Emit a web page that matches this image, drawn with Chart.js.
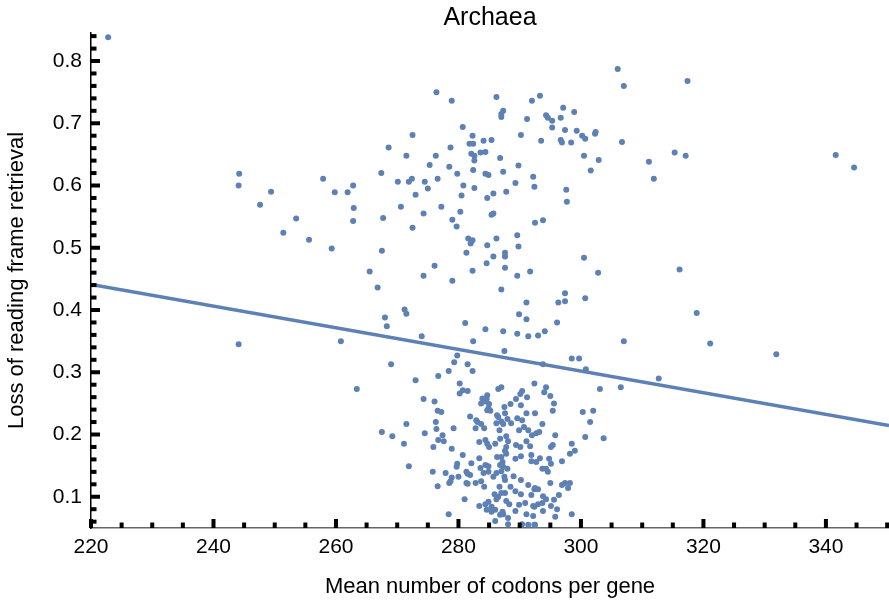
<!DOCTYPE html>
<html>
<head>
<meta charset="utf-8">
<script src="https://cdn.jsdelivr.net/npm/chart.js@4/dist/chart.umd.min.js"></script>
<style>
  html, body { margin: 0; padding: 0; background: #fff; }
  #wrap { width: 889px; height: 605px; position: relative; }
</style>
</head>
<body>
<div id="wrap"><canvas id="archaeaChart"></canvas></div>
<script>
// ----------------------------------------
// data
// ----------------------------------------

// mean number of codons per gene
const codonsPerGene = [
  222.8, 244.2, 244.1, 247.6, 249.4, 251.4, 253.5, 255.6, 257.9, 259.3,
  259.8, 261.9, 262.8, 262.9, 262.8, 244.1, 260.8, 263.4, 265.5, 266.8,
  267.4, 267.7, 267.5, 267.5, 269.2, 271.5, 271.1, 271.9, 274.5, 274.3,
  273.0, 269.0, 268.3, 268.0, 271.2, 271.5, 274.0,
  276.4, 278.9, 280.7, 272.5, 282.3, 284.1, 281.8, 282.4, 268.6, 278.7,
  282.1, 282.6, 283.6, 284.4, 271.5, 276.3, 282.6, 275.3, 278.5, 282.4,
  279.8, 284.4, 270.1, 271.9, 272.4, 274.5, 276.6, 275.0, 280.8, 282.6,
  273.0, 280.5, 284.7, 270.6, 277.2, 280.3, 274.3, 279.0, 279.7, 272.5,
  281.6, 282.3, 282.0, 284.7, 281.3, 284.6, 276.1, 282.3, 274.3, 279.0,
  281.1, 284.4,
  306.0, 307.0, 286.2, 293.3, 292.0, 297.1, 298.9, 287.3, 287.0, 287.0,
  294.3, 294.6, 295.3, 296.7, 291.2, 295.3, 297.4, 299.3, 300.2, 300.7,
  302.3, 302.4, 290.2, 285.4, 293.5, 296.7, 296.9, 298.4, 306.7, 315.3,
  311.1, 311.9, 286.8, 300.5, 302.9, 289.8, 301.6, 284.9, 287.3, 292.2,
  289.3, 292.4, 297.6, 297.7, 287.8, 285.7, 285.4, 285.7, 292.5, 293.8,
  286.2, 289.6, 287.6, 287.6, 285.7, 289.8, 287.6, 289.6, 291.7, 300.5,
  302.8, 287.0, 297.4, 297.4, 296.3, 300.7, 291.1, 289.9, 291.1, 296.1,
  287.3, 289.6, 291.4, 293.0, 294.1,
  317.4, 317.1, 341.6, 344.6, 316.1, 318.9, 307.0, 321.1, 331.9, 312.7,
  306.5, 303.1, 303.7,
  298.5, 299.7, 300.8, 293.8, 287.5, 292.4, 294.3, 294.0, 295.0, 295.6,
  295.4, 300.3, 302.0, 301.5, 300.7, 298.5, 299.0, 298.2, 296.9, 295.1,
  294.6, 293.7, 295.8, 295.4, 295.1, 293.3, 292.7, 291.9, 291.9, 295.0,
  296.9, 297.4, 298.2, 297.9, 296.4, 296.1, 298.5, 295.6, 293.8, 293.0,
  292.4, 291.4, 292.4, 292.4, 293.7,
  282.4, 279.8, 279.3, 281.5, 282.3, 278.4, 276.7, 280.2, 280.2, 280.7,
  281.5, 286.5, 287.0, 284.7, 276.1, 283.9, 284.4, 276.6, 277.2, 284.9,
  285.2, 287.5, 281.9, 286.5, 287.0, 276.3, 282.9, 276.4, 279.2, 282.8,
  284.2, 277.4, 276.7, 277.6, 275.9, 278.9, 283.4, 284.4, 284.7, 285.0,
  286.0, 280.7, 283.4, 279.8, 279.7, 282.1, 277.9, 275.8, 278.7, 278.5,
  280.0, 281.5, 281.5, 282.8, 283.7, 276.6, 284.2, 284.9, 285.7, 286.2,
  287.0, 287.5, 285.9, 286.5, 286.7, 284.9, 285.4, 284.4, 283.4, 286.0,
  286.8, 287.2, 281.0, 278.4, 287.8, 287.6, 287.2, 287.8, 287.3, 287.0,
  287.8, 287.8, 286.7, 287.3, 286.3, 287.6,
  290.4, 290.1, 291.2, 289.4, 288.5, 290.2, 291.1, 292.5, 288.0, 288.6,
  289.6, 290.4, 290.7, 293.7, 286.2, 289.9, 291.4, 292.0, 292.7, 293.2,
  291.1, 288.1, 286.8, 289.4, 290.1, 291.7, 287.6, 290.2, 294.8, 286.3,
  289.3, 294.3, 286.8, 288.0, 287.6, 289.0, 290.2, 292.5, 288.5, 289.3,
  287.0, 290.2, 291.9, 294.3, 286.2, 288.3, 289.9, 290.9, 292.2, 293.0,
  295.1, 287.3, 289.3, 291.1, 292.2, 293.8, 295.8, 288.1, 290.4, 291.4,
  292.5, 288.1,
  284.6, 283.7, 285.0, 284.7, 283.1, 283.7, 283.6, 284.4, 284.9, 284.1,
  281.3, 281.9, 278.9, 281.3, 284.6, 285.4, 286.0
];

// loss of reading frame retrieval
const lossOfFrame = [
  0.838, 0.619, 0.600, 0.569, 0.590, 0.524, 0.547, 0.513, 0.611, 0.499,
  0.589, 0.589, 0.600, 0.564, 0.543, 0.345, 0.350, 0.273, 0.462, 0.436,
  0.620, 0.548, 0.495, 0.204, 0.197, 0.217, 0.185, 0.149, 0.202, 0.257,
  0.287, 0.313, 0.374, 0.388, 0.401, 0.394, 0.358,
  0.750, 0.736, 0.694, 0.681, 0.680, 0.672, 0.667, 0.667, 0.661, 0.661,
  0.651, 0.648, 0.653, 0.654, 0.648, 0.648, 0.640, 0.633, 0.630, 0.625,
  0.619, 0.619, 0.606, 0.606, 0.611, 0.606, 0.611, 0.595, 0.600, 0.596,
  0.585, 0.584, 0.580, 0.566, 0.566, 0.558, 0.555, 0.545, 0.534, 0.532,
  0.515, 0.512, 0.507, 0.504, 0.492, 0.475, 0.471, 0.463, 0.455, 0.447,
  0.379, 0.369,
  0.787, 0.760, 0.742, 0.744, 0.736, 0.725, 0.718, 0.720, 0.715, 0.710,
  0.713, 0.709, 0.704, 0.709, 0.707, 0.693, 0.689, 0.688, 0.680, 0.675,
  0.683, 0.686, 0.681, 0.673, 0.672, 0.673, 0.669, 0.669, 0.670, 0.653,
  0.638, 0.611, 0.644, 0.648, 0.641, 0.632, 0.624, 0.617, 0.622, 0.614,
  0.604, 0.598, 0.593, 0.574, 0.590, 0.587, 0.553, 0.555, 0.540, 0.544,
  0.515, 0.520, 0.492, 0.486, 0.486, 0.502, 0.468, 0.455, 0.462, 0.484,
  0.460, 0.433, 0.427, 0.414, 0.412, 0.419, 0.412, 0.393, 0.385, 0.380,
  0.366, 0.362, 0.358, 0.359, 0.366,
  0.768, 0.648, 0.649, 0.629, 0.465, 0.395, 0.350, 0.346, 0.329, 0.290,
  0.276, 0.273, 0.194,
  0.322, 0.322, 0.305, 0.313, 0.334, 0.282, 0.276, 0.268, 0.262, 0.250,
  0.238, 0.236, 0.238, 0.220, 0.196, 0.185, 0.174, 0.169, 0.157, 0.153,
  0.140, 0.145, 0.199, 0.183, 0.180, 0.162, 0.156, 0.167, 0.157, 0.122,
  0.119, 0.122, 0.122, 0.114, 0.103, 0.080, 0.072, 0.095, 0.101, 0.112,
  0.112, 0.119, 0.084, 0.055, 0.090,
  0.350, 0.327, 0.316, 0.313, 0.302, 0.302, 0.294, 0.282, 0.266, 0.271,
  0.270, 0.273, 0.276, 0.263, 0.253, 0.258, 0.253, 0.238, 0.236, 0.242,
  0.238, 0.244, 0.229, 0.228, 0.221, 0.220, 0.223, 0.209, 0.210, 0.210,
  0.210, 0.199, 0.191, 0.189, 0.180, 0.177, 0.188, 0.191, 0.185, 0.180,
  0.185, 0.167, 0.162, 0.153, 0.148, 0.154, 0.138, 0.140, 0.125, 0.122,
  0.132, 0.137, 0.121, 0.122, 0.125, 0.117, 0.116, 0.140, 0.132, 0.138,
  0.141, 0.132, 0.104, 0.100, 0.116, 0.092, 0.084, 0.088, 0.085, 0.079,
  0.071, 0.076, 0.096, 0.072, 0.093, 0.106, 0.156, 0.169, 0.148, 0.164,
  0.197, 0.180, 0.207, 0.217, 0.231, 0.234,
  0.270, 0.265, 0.260, 0.257, 0.249, 0.247, 0.234, 0.234, 0.225, 0.218,
  0.226, 0.223, 0.212, 0.217, 0.218, 0.207, 0.207, 0.199, 0.202, 0.204,
  0.189, 0.189, 0.193, 0.183, 0.180, 0.181, 0.174, 0.165, 0.161, 0.164,
  0.161, 0.145, 0.151, 0.145, 0.127, 0.133, 0.127, 0.114, 0.116, 0.109,
  0.106, 0.104, 0.103, 0.096, 0.096, 0.088, 0.087, 0.090, 0.085, 0.088,
  0.085, 0.072, 0.077, 0.072, 0.069, 0.077, 0.068, 0.056, 0.056, 0.055,
  0.055, 0.066,
  0.257, 0.250, 0.249, 0.239, 0.220, 0.217, 0.146, 0.151, 0.149, 0.138,
  0.140, 0.135, 0.131, 0.122, 0.079, 0.076, 0.061
];

// fitted line end points
const fitX = [220, 350.3];
const fitY = [0.441, 0.2145];

// tick labels
const xTickValues = [220, 240, 260, 280, 300, 320, 340];
const yTickValues = [0.1, 0.2, 0.3, 0.4, 0.5, 0.6, 0.7, 0.8];

// ----------------------------------------
// styles
// ----------------------------------------
const pointColor = 'rgb(94, 129, 181)';
const fontFamily = '"Liberation Sans", Arial, Helvetica, sans-serif';

// Mathematica-style tick marks: small black blocks pointing into the plot
const axisTicks = {
    id: 'axisTicks',
    afterDatasetsDraw(chart) {
        const { ctx, chartArea } = chart;
        const xs = chart.scales.x;
        const ys = chart.scales.y;
        ctx.save();
        ctx.fillStyle = '#000';

        // x axis: major every 20, minor every 5
        for (let v = 220; v <= 350; v += 5) {
            const px = xs.getPixelForValue(v);
            const len = v % 20 === 0 ? 9 : 5.5;
            ctx.fillRect(px - 2, chartArea.bottom - len, 4, len);
        }

        // y axis: major every 0.1, minor every 0.02
        for (let k = 3; k <= 42; k++) {
            const py = ys.getPixelForValue(k * 0.02);
            const len = k % 5 === 0 ? 9 : 5.5;
            ctx.fillRect(chartArea.left, py - 2, len, 4);
        }
        ctx.restore();
    }
};

const scatterPoints = codonsPerGene.map((x, i) => ({ x: x, y: lossOfFrame[i] }));
const fitPoints = fitX.map((x, i) => ({ x: x, y: fitY[i] }));

const ctx = document.getElementById('archaeaChart').getContext('2d');
new Chart(ctx, {
    type: 'scatter',
    data: {
        datasets: [
            {
                type: 'line',
                label: 'fit',
                data: fitPoints,
                borderColor: pointColor,
                borderWidth: 3.5,
                pointRadius: 0,
                fill: false,
                order: 0
            },
            {
                label: 'Archaea',
                data: scatterPoints,
                backgroundColor: pointColor,
                borderWidth: 0,
                pointRadius: 3,
                order: 1
            }
        ]
    },
    options: {
        responsive: true,
        maintainAspectRatio: false,
        animation: false,
        layout: { padding: 0, autoPadding: false },
        plugins: {
            legend: { display: false },
            tooltip: { enabled: false },
            title: {
                display: true,
                text: 'Archaea',
                fullSize: false,
                color: '#000',
                font: { family: fontFamily, size: 25, weight: 'normal' },
                padding: { top: 3, bottom: 0 }
            }
        },
        scales: {
            x: {
                type: 'linear',
                min: 220,
                max: 350.3,
                afterBuildTicks: scale => {
                    scale.ticks = xTickValues.map(v => ({ value: v }));
                },
                afterFit: scale => { scale.height = 77; },
                grid: { display: false, drawTicks: false },
                border: { display: true, color: '#666', width: 1.5 },
                ticks: {
                    padding: 7,
                    color: '#000',
                    maxRotation: 0,
                    font: { family: fontFamily, size: 21 },
                    callback: v => v.toString()
                },
                title: {
                    display: true,
                    text: 'Mean number of codons per gene',
                    color: '#000',
                    font: { family: fontFamily, size: 22 },
                    padding: { top: 0, bottom: 5 }
                }
            },
            y: {
                type: 'linear',
                min: 0.0498,
                max: 0.845,
                afterBuildTicks: scale => {
                    scale.ticks = yTickValues.map(v => ({ value: v }));
                },
                afterFit: scale => { scale.width = 91; },
                grid: { display: false, drawTicks: false },
                border: { display: true, color: '#000', width: 1.5 },
                ticks: {
                    padding: 9,
                    color: '#000',
                    font: { family: fontFamily, size: 21 },
                    callback: v => v.toFixed(1)
                },
                title: {
                    display: true,
                    text: 'Loss of reading frame retrieval',
                    color: '#000',
                    font: { family: fontFamily, size: 22 },
                    padding: { top: 4, bottom: 0 }
                }
            }
        }
    },
    plugins: [axisTicks]
});
</script>
</body>
</html>
